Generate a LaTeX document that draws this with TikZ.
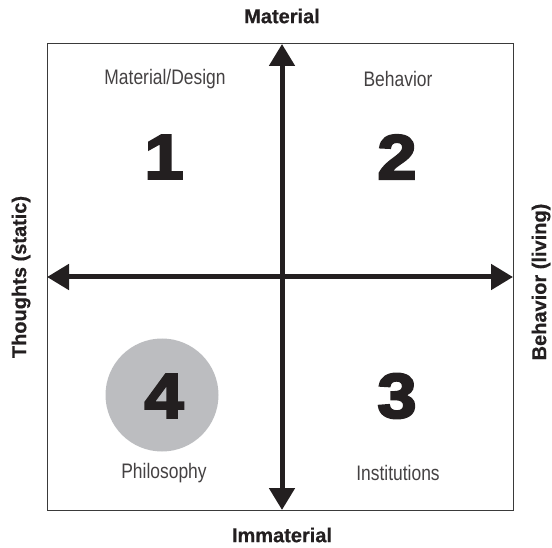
\documentclass[tikz,border=0pt]{standalone}
\usepackage{fontspec}
\usetikzlibrary{arrows.meta}
\setmainfont{Liberation Sans}
\newfontfamily\labelfont{Liberation Sans}[FakeStretch=0.83]
\newfontfamily\headfont{Liberation Sans}[BoldFeatures={FakeBold=0.6}]
\newfontfamily\numfont{Liberation Sans}[BoldFeatures={FakeBold=3.6,FakeStretch=1.12}]
\definecolor{ink}{HTML}{231F20}
\definecolor{disc}{HTML}{BCBDC0}
\definecolor{frame}{HTML}{3A3A3A}
\tikzset{
  quadlabel/.style={font=\labelfont\fontsize{21}{23}\selectfont, text=ink!85},
  quadnum/.style={font=\numfont\bfseries\fontsize{63}{66}\selectfont, text=ink, inner sep=0pt},
  axislabel/.style={font=\headfont\bfseries\fontsize{20}{22}\selectfont, text=ink},
  axisarrow/.style={draw=ink, line width=5pt,
    {Triangle[length=22pt,width=25pt]}-{Triangle[length=22pt,width=25pt]}},
  framebox/.style={draw=frame, line width=1pt}
}
\begin{document}
\begin{tikzpicture}[x=1pt,y=-1pt]
  \useasboundingbox (0,0) rectangle (552,548);
  % outer frame
  \draw[framebox] (47,44) rectangle (513,510);
  % axis end points on the frame
  \coordinate (top) at (282,44);
  \coordinate (bottom) at (282,510);
  \coordinate (left) at (47,277);
  \coordinate (right) at (513,277);
  % highlighted quadrant
  \fill[disc] (162,395) circle (56.5);
  % axes
  \draw[axisarrow] (bottom) -- (top);
  \draw[axisarrow] (left) -- (right);
  % axis titles
  \node[axislabel] (material) at (282,16) {Material};
  \node[axislabel] (immaterial) at (282,535) {Immaterial};
  \node[axislabel, rotate=90] (thoughts) at (21,277) {Thoughts (static)};
  \node[axislabel, rotate=90] (living) at (541,282) {Behavior (living)};
  % quadrant captions
  \node[quadlabel] (q1label) at (165,79) {Material/Design};
  \node[quadlabel] (q2label) at (398,79) {Behavior};
  \node[quadlabel] (q4label) at (164,473) {Philosophy};
  \node[quadlabel] (q3label) at (398,473) {Institutions};
  % quadrant numbers
  \node[quadnum] (n1) at (164,157) {1};
  \node[quadnum] (n2) at (397,157) {2};
  \node[quadnum] (n3) at (397,396) {3};
  \node[quadnum] (n4) at (164,396) {4};
\end{tikzpicture}
\end{document}
